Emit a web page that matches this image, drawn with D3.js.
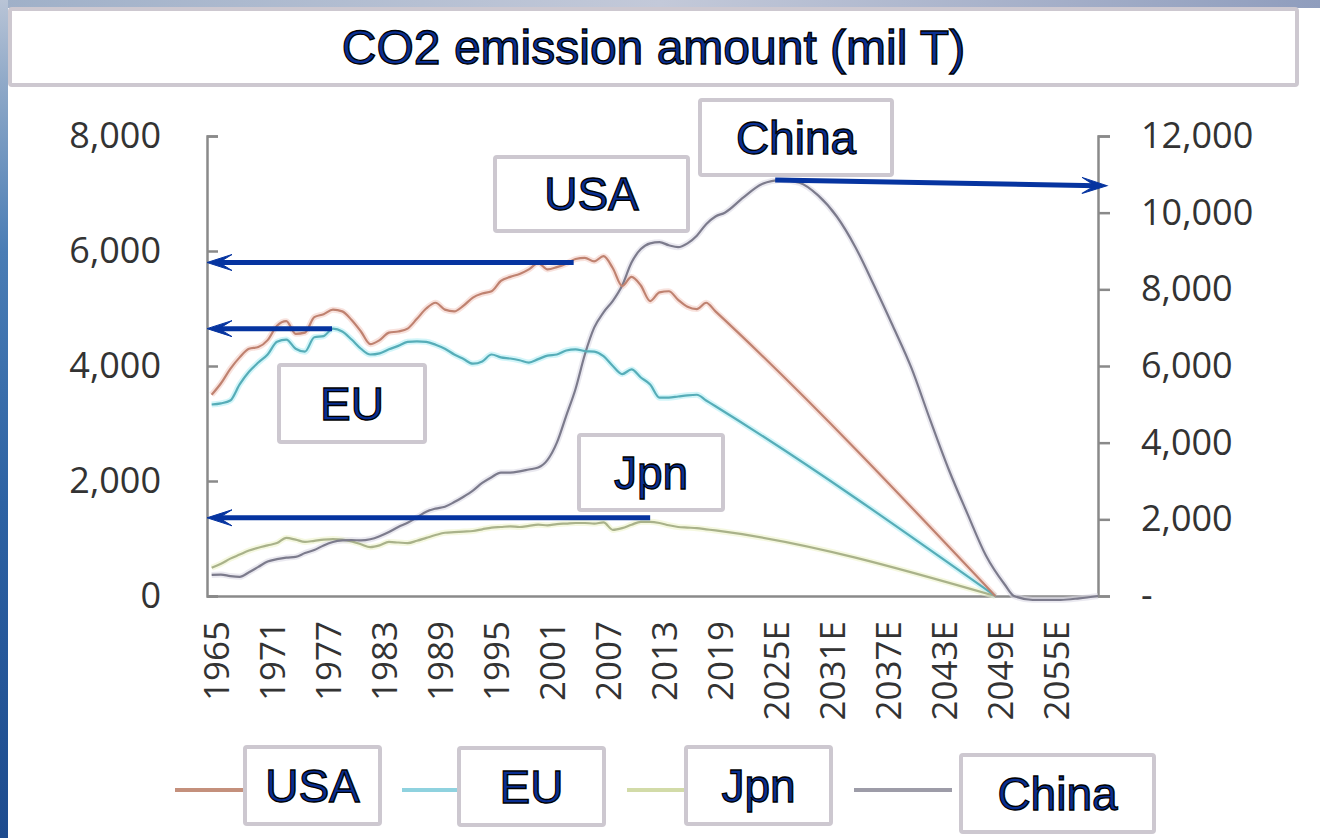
<!DOCTYPE html>
<html>
<head>
<meta charset="utf-8">
<script src="https://cdn.jsdelivr.net/npm/d3@7"></script>
<style>
  html, body { margin: 0; padding: 0; background: #ffffff; }
  svg { display: block; }
</style>
</head>
<body>
<svg id="chart" width="1320" height="838"></svg>
<script>
// ---------------- DATA ----------------
const years = [1965,1966,1967,1968,1969,1970,1971,1972,1973,1974,1975,1976,1977,1978,1979,
  1980,1981,1982,1983,1984,1985,1986,1987,1988,1989,1990,1991,1992,1993,1994,1995,1996,1997,
  1998,1999,2000,2001,2002,2003,2004,2005,2006,2007,2008,2009,2010,2011,2012,2013,2014,2015,
  2016,2017,2018,2019];

const usa = [3500,3700,3950,4150,4300,4330,4450,4700,4780,4560,4580,4850,4900,4980,4950,
  4800,4600,4380,4450,4580,4600,4650,4820,5000,5100,4980,4950,5050,5190,5260,5300,5480,5550,
  5600,5680,5790,5680,5720,5780,5860,5880,5820,5910,5700,5390,5550,5400,5130,5280,5300,5150,
  5030,4990,5100,4950];

const eu = [3330,3350,3400,3680,3900,4060,4200,4420,4460,4300,4250,4500,4520,4650,4600,
  4460,4300,4200,4220,4290,4350,4420,4430,4420,4370,4300,4200,4120,4040,4080,4200,4150,4130,
  4100,4060,4120,4180,4200,4270,4290,4260,4250,4170,4000,3860,3940,3800,3680,3450,3450,3470,
  3490,3500,3400,3300];

const jpn = [490,560,650,720,790,840,880,920,1010,980,940,960,980,990,980,
  950,900,850,880,940,930,920,960,1010,1060,1100,1110,1120,1130,1160,1190,1200,1210,
  1200,1220,1240,1230,1250,1260,1270,1270,1260,1280,1150,1180,1240,1290,1290,1270,1230,1200,
  1190,1180,1160,1140];

const china = [550,560,520,500,620,760,900,960,1000,1020,1120,1200,1320,1410,1450,
  1460,1450,1480,1560,1670,1800,1910,2050,2200,2280,2330,2450,2590,2750,2950,3100,3220,3220,
  3250,3300,3350,3550,4000,4700,5400,6300,7000,7400,7700,8100,8700,9050,9200,9230,9150,9100,
  9200,9400,9700,9900];

// projections (E years)
const usaProjYears = [2049];
const usaProj = [0];
const euProjYears = [2049];
const euProj = [0];
const jpnProjYears = [2049];
const jpnProj = [0];
const chinaProjYears = [2020,2022,2024,2026,2028,2030,2032,2034,2036,2038,2040,2042,2044,2046,2048,2050,2051,2053,2056,2058,2060];
const chinaProj = [10000,10400,10750,10850,10780,10450,9900,9100,8100,7050,5950,4600,3300,2150,1050,300,0,-100,-100,-60,0];

const seriesNames = ["USA","EU","Jpn","China"];

const xTickLabels = ["1965","1971","1977","1983","1989","1995","2001","2007","2013","2019",
  "2025E","2031E","2037E","2043E","2049E","2055E"];
const leftTicks = [0,2000,4000,6000,8000];
const rightTicks = [0,2000,4000,6000,8000,10000,12000];

// arrow annotations: start point on a series, pointing to an axis
const arrowsLeft = [
  {name:"USA", fromYear:2003.8, value:5800},
  {name:"EU",  fromYear:1977.9, value:4650},
  {name:"Jpn", fromYear:2012.0, value:1360}
];
const arrowChina = {fromYear:2025.4, fromValue:10850, toValue:10700};

const titleText = "CO2 emission amount (mil T)";

// ---------------- SETUP ----------------
const svg = d3.select("#chart");
const defs = svg.append("defs");

const gl = defs.append("linearGradient").attr("id","leftStrip").attr("x1",0).attr("y1",0).attr("x2",0).attr("y2",1);
[[0,"#b9c4d6"],[0.1,"#8fa9c8"],[0.3,"#4a7db5"],[0.6,"#2d62a3"],[1,"#1d4b8e"]].forEach(d=>gl.append("stop").attr("offset",d[0]).attr("stop-color",d[1]));
const gt = defs.append("linearGradient").attr("id","topStrip").attr("x1",0).attr("y1",0).attr("x2",1).attr("y2",0);
[[0,"#9fb0c8"],[0.5,"#c3c9d9"],[1,"#8f9dbd"]].forEach(d=>gt.append("stop").attr("offset",d[0]).attr("stop-color",d[1]));

svg.append("rect").attr("x",0).attr("y",0).attr("width",1320).attr("height",838).attr("fill","#ffffff");
svg.append("rect").attr("x",0).attr("y",0).attr("width",1320).attr("height",8).attr("fill","url(#topStrip)");
svg.append("rect").attr("x",0).attr("y",0).attr("width",8).attr("height",838).attr("fill","url(#leftStrip)");

const x = d3.scaleLinear().domain([1964.5, 2060]).range([207, 1098]);
const yL = d3.scaleLinear().domain([0, 8000]).range([596, 136]);
const yR = d3.scaleLinear().domain([0, 12000]).range([596, 136]);

const axisColor = "#8a8a8a";
const tickFont = "'Open Sans', 'Noto Sans', sans-serif";

// ---------------- AXES ----------------
const gLeft = svg.append("g").attr("transform","translate(207,0)")
  .call(d3.axisLeft(yL).tickValues(leftTicks).tickSizeInner(-11).tickSizeOuter(-11).tickPadding(46)
        .tickFormat(d3.format(",")));
const gRight = svg.append("g").attr("transform","translate(1098,0)")
  .call(d3.axisRight(yR).tickValues(rightTicks).tickSizeInner(12).tickSizeOuter(12).tickPadding(31)
        .tickFormat(d => d === 0 ? "-" : d3.format(",")(d)));
const xYears = xTickLabels.map(s => parseInt(s, 10));
const gBottom = svg.append("g").attr("transform","translate(0,596)")
  .call(d3.axisBottom(x).tickValues(xYears).tickSize(0)
        .tickFormat((d,i) => xTickLabels[i]));

[gLeft, gRight, gBottom].forEach(g => {
  g.selectAll("path.domain").attr("stroke", axisColor).attr("stroke-width", 2.5);
  g.selectAll(".tick line").attr("stroke", axisColor).attr("stroke-width", 2.5);
  g.selectAll(".tick text").attr("fill","#333333").style("font-family", tickFont);
});
gLeft.selectAll(".tick text").style("font-size","36px");
gRight.selectAll(".tick text").style("font-size","36px");
gBottom.selectAll(".tick text")
  .style("font-size","35px")
  .attr("transform","rotate(-90)")
  .attr("text-anchor","end")
  .attr("x",-25).attr("y",5).attr("dy","0.35em");

// ---------------- LINES ----------------
const styles = {
  USA:   {core:"#bf8270", halo:"#f4cfc6"},
  EU:    {core:"#56adb8", halo:"#b4eef5"},
  Jpn:   {core:"#a9b28a", halo:"#eef4cc"},
  China: {core:"#7c7b8c", halo:"#dcdbe6"}
};

function pts(ys, vs, pys, pvs) {
  const a = ys.map((yr,i) => [yr, vs[i]]);
  return a.concat(pys.map((yr,i) => [yr, pvs[i]]));
}
const seriesData = {
  USA:   {pts: pts(years, usa, usaProjYears, usaProj), y: yL},
  EU:    {pts: pts(years, eu, euProjYears, euProj), y: yL},
  Jpn:   {pts: pts(years, jpn, jpnProjYears, jpnProj), y: yL},
  China: {pts: pts(years, china, chinaProjYears, chinaProj), y: yR}
};

const drawOrder = ["Jpn","China","EU","USA"];
const gLines = svg.append("g");
drawOrder.forEach(name => {
  const s = seriesData[name];
  const line = d3.line().x(d => x(d[0])).y(d => s.y(d[1])).curve(d3.curveMonotoneX);
  gLines.append("path").attr("d", line(s.pts)).attr("fill","none")
    .attr("stroke", styles[name].halo).attr("stroke-width", 6).attr("stroke-opacity", 0.6)
    .attr("stroke-linejoin","round");
});
drawOrder.forEach(name => {
  const s = seriesData[name];
  const line = d3.line().x(d => x(d[0])).y(d => s.y(d[1])).curve(d3.curveMonotoneX);
  gLines.append("path").attr("d", line(s.pts)).attr("fill","none")
    .attr("stroke", styles[name].core).attr("stroke-width", 2.2)
    .attr("stroke-linejoin","round");
});

// ---------------- ARROWS ----------------
const arrowColor = "#0634a0";
function arrow(x1, y1, x2, y2) {
  const ang = Math.atan2(y2 - y1, x2 - x1);
  const g = svg.append("g");
  const len = Math.hypot(x2 - x1, y2 - y1);
  const gg = g.append("g").attr("transform", `translate(${x1},${y1}) rotate(${ang * 180 / Math.PI})`);
  gg.append("line").attr("x1",0).attr("y1",0).attr("x2",len - 10).attr("y2",0)
    .attr("stroke", arrowColor).attr("stroke-width", 5);
  gg.append("path")
    .attr("d", `M${len},0 L${len-25},-8 L${len-12},0 L${len-25},8 Z`)
    .attr("fill", arrowColor).attr("stroke", arrowColor).attr("stroke-width", 1).attr("stroke-linejoin","miter");
}
arrowsLeft.forEach(a => arrow(x(a.fromYear), yL(a.value), 207, yL(a.value)));
arrow(x(arrowChina.fromYear), yR(arrowChina.fromValue), 1107, yR(arrowChina.toValue));

// ---------------- BOXES & LABELS ----------------
const boxStroke = "#cdc8d0";
const labelFont = "'Liberation Sans', Arial, sans-serif";
function labelBox(x0, y0, x1, y1, text, size) {
  svg.append("rect").attr("x", x0 + 2).attr("y", y0 + 2)
    .attr("width", x1 - x0 - 4).attr("height", y1 - y0 - 4).attr("rx", 2)
    .attr("fill","#ffffff").attr("stroke", boxStroke).attr("stroke-width", 4);
  const cy = (y0 + y1) / 2;
  svg.append("text").attr("x", (x0 + x1) / 2).attr("y", cy + size * 0.355)
    .attr("text-anchor","middle")
    .style("font-family", labelFont).style("font-size", size + "px")
    .attr("fill","#0a2f92").attr("stroke","#000000").attr("stroke-width",1.3)
    .text(text);
}

// title
labelBox(8, 7, 1299, 87, titleText, 48);

// in-chart labels
labelBox(493, 155, 690, 233, seriesNames[0], 46);
labelBox(698, 98, 894, 177, seriesNames[3], 46);
labelBox(277, 363, 427, 444, seriesNames[1], 46);
labelBox(577, 433, 725, 512, seriesNames[2], 46);

// legend
const legendLineColors = {USA:"#c4907c", EU:"#8fd2df", Jpn:"#d2dba8", China:"#9d9ca8"};
const legendItems = [
  {name:"USA",   lx0:175, lx1:245, box:[243,745,382,826]},
  {name:"EU",    lx0:402, lx1:459, box:[457,746,606,827]},
  {name:"Jpn",   lx0:627, lx1:686, box:[684,745,833,826]},
  {name:"China", lx0:854, lx1:952, box:[959,753,1156,834]}
];
legendItems.forEach(it => {
  svg.append("line").attr("x1", it.lx0).attr("x2", it.lx1).attr("y1", 790).attr("y2", 790)
    .attr("stroke", legendLineColors[it.name]).attr("stroke-width", 4);
  labelBox(it.box[0], it.box[1], it.box[2], it.box[3], it.name, 46);
});
</script>
</body>
</html>
